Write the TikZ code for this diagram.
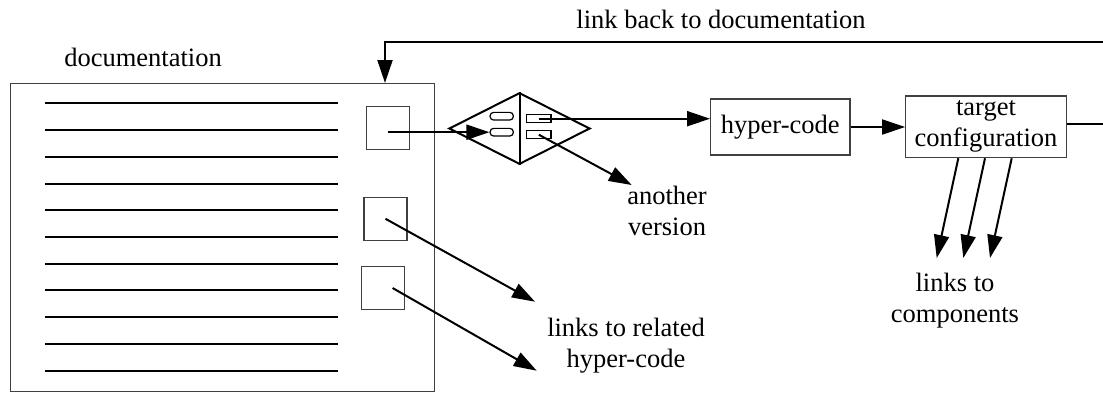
\documentclass[tikz,border=0pt]{standalone}
\usepackage{fontspec}
\setmainfont{Liberation Serif}
\usetikzlibrary{arrows.meta,shapes.geometric}
\begin{document}
\begin{tikzpicture}[x=0.5pt,y=-0.5pt,
  every node/.style={font=\fontsize{13.25pt}{15.5pt}\selectfont},
  conn/.style={line width=1pt,-{Triangle[length=11.5pt,width=7.5pt]}},
  plain/.style={line width=1pt},
  frame/.style={draw=black!75,line width=0.6pt,inner sep=0pt},
  hbox/.style={frame,minimum size=21.5pt},
  pill/.style={draw,line width=0.6pt,rounded corners=1.8pt,inner sep=0pt,minimum width=11.65pt,minimum height=3.85pt},
  slot/.style={draw,line width=0.6pt,inner sep=0pt,minimum width=12.15pt,minimum height=4pt},
  label/.style={align=center,inner sep=0pt}
]
\useasboundingbox (0,0) rectangle (1103,392);

% documentation page
\node[frame,anchor=north west,minimum width=212pt,minimum height=154.1pt] (doc) at (10,83) {};
\foreach \yy in {103,130,157,184,210,237,264,290,317,344,371}
  \draw[line width=0.85pt] (45,\yy) -- (338,\yy);
\node[hbox] (b1) at (388.3,128) {};
\node[hbox] (b2) at (385.5,218.8) {};
\node[hbox] (b3) at (383,288) {};

% version selector
\node[draw,shape=diamond,line width=1pt,inner sep=0pt,minimum width=70.5pt,minimum height=35.8pt] (dia) at (519.5,128.5) {};
\draw[line width=1pt] (dia.north) -- (dia.south);
\node[pill] (r1) at (501.7,116.2) {};
\node[pill] (r2) at (501.7,132.2) {};
\node[slot] (s1) at (538.8,118.7) {};
\node[slot] (s2) at (538.8,134.7) {};

% boxes
\node[frame,minimum width=69.65pt,minimum height=28pt] (hyper) at (780.3,127) {hyper-code};
\node[frame,align=center,minimum width=80.3pt,minimum height=30.85pt] (tc) at (986,126.8) {target\\configuration};

% labels
\node[anchor=base,inner sep=0pt] (lback) at (721,28.3) {link back to documentation};
\node[anchor=base,inner sep=0pt] (ldoc) at (143,66.7) {documentation};
\node[label] (lav) at (667,211) {another\\version};
\node[label] (lcomp) at (955,300.5) {links to\\components};
\node[label] (lrel) at (626,346) {links to related\\hyper-code};

% free ends
\coordinate (av) at (631.7,185);
\coordinate (rh1) at (535,301.7);
\coordinate (rh2) at (536.7,370.7);
\coordinate (c1) at (936.7,258);
\coordinate (c2) at (963.3,258);
\coordinate (c3) at (990,258);
\coordinate (e1) at (1103,124.3);
\coordinate (e2) at (1103,42);
\coordinate (lb) at (385,42);

% connectors
\draw[conn] (b1.center |- r2.west) -- (r2.west);
\draw[conn] (s1.center) -- (hyper.west |- s1.center);
\draw[conn] (s2.center) -- (av);
\draw[conn] (hyper.east) -- (tc.west |- hyper.east);
\draw[conn] (b2.center) -- (rh1);
\draw[conn] ([xshift=4.8pt]b3.center) -- (rh2);
\draw[conn] ([xshift=-13.85pt]tc.south) -- (c1);
\draw[conn] ([xshift=-0.5pt]tc.south) -- (c2);
\draw[conn] ([xshift=12.85pt]tc.south) -- (c3);
\draw[plain] (e1 -| tc.east) -- (e1);
\draw[conn] (e2) -- (lb) -- (lb |- doc.north);
\end{tikzpicture}
\end{document}
